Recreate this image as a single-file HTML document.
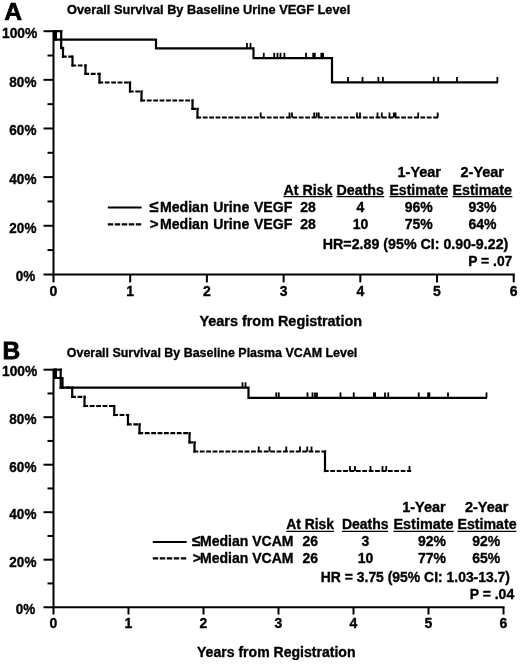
<!DOCTYPE html>
<html><head><meta charset="utf-8"><title>Overall Survival</title>
<style>
html,body{margin:0;padding:0;background:#fff;}
body{width:520px;height:664px;overflow:hidden;font-family:"Liberation Sans",sans-serif;}
svg{display:block;}
</style></head><body>
<svg width="520" height="664" viewBox="0 0 520 664">
<defs><filter id="soft" x="0" y="0" width="520" height="664" filterUnits="userSpaceOnUse"><feGaussianBlur stdDeviation="0.4"/></filter></defs>
<rect x="0" y="0" width="520" height="664" fill="#fff"/>
<g filter="url(#soft)">
<line x1="53.5" y1="30.20" x2="53.5" y2="275.40" stroke="#000" stroke-width="2.0"/>
<line x1="43.5" y1="274.40" x2="514.70" y2="274.40" stroke="#000" stroke-width="2.0"/>
<text x="15.78" y="281.20" font-size="14" textLength="19.52" lengthAdjust="spacingAndGlyphs" font-family="Liberation Sans, sans-serif" font-weight="bold" stroke="#000" stroke-width="0.35" stroke-linejoin="round">0%</text>
<line x1="47.5" y1="250.08" x2="53.5" y2="250.08" stroke="#000" stroke-width="2.0"/>
<line x1="43.5" y1="225.76" x2="53.5" y2="225.76" stroke="#000" stroke-width="2.0"/>
<text x="9.36" y="232.56" font-size="14" textLength="27.04" lengthAdjust="spacingAndGlyphs" font-family="Liberation Sans, sans-serif" font-weight="bold" stroke="#000" stroke-width="0.35" stroke-linejoin="round">20%</text>
<line x1="47.5" y1="201.44" x2="53.5" y2="201.44" stroke="#000" stroke-width="2.0"/>
<line x1="43.5" y1="177.12" x2="53.5" y2="177.12" stroke="#000" stroke-width="2.0"/>
<text x="9.36" y="183.92" font-size="14" textLength="27.04" lengthAdjust="spacingAndGlyphs" font-family="Liberation Sans, sans-serif" font-weight="bold" stroke="#000" stroke-width="0.35" stroke-linejoin="round">40%</text>
<line x1="47.5" y1="152.80" x2="53.5" y2="152.80" stroke="#000" stroke-width="2.0"/>
<line x1="43.5" y1="128.48" x2="53.5" y2="128.48" stroke="#000" stroke-width="2.0"/>
<text x="9.36" y="135.28" font-size="14" textLength="27.04" lengthAdjust="spacingAndGlyphs" font-family="Liberation Sans, sans-serif" font-weight="bold" stroke="#000" stroke-width="0.35" stroke-linejoin="round">60%</text>
<line x1="47.5" y1="104.16" x2="53.5" y2="104.16" stroke="#000" stroke-width="2.0"/>
<line x1="43.5" y1="79.84" x2="53.5" y2="79.84" stroke="#000" stroke-width="2.0"/>
<text x="9.36" y="86.64" font-size="14" textLength="27.04" lengthAdjust="spacingAndGlyphs" font-family="Liberation Sans, sans-serif" font-weight="bold" stroke="#000" stroke-width="0.35" stroke-linejoin="round">80%</text>
<line x1="47.5" y1="55.52" x2="53.5" y2="55.52" stroke="#000" stroke-width="2.0"/>
<line x1="43.5" y1="31.20" x2="53.5" y2="31.20" stroke="#000" stroke-width="2.0"/>
<text x="2.03" y="38.00" font-size="14" textLength="35.27" lengthAdjust="spacingAndGlyphs" font-family="Liberation Sans, sans-serif" font-weight="bold" stroke="#000" stroke-width="0.35" stroke-linejoin="round">100%</text>
<line x1="53.50" y1="274.40" x2="53.50" y2="282.40" stroke="#000" stroke-width="2.0"/>
<text x="53.50" y="295.80" text-anchor="middle" font-size="14" font-family="Liberation Sans, sans-serif" font-weight="bold" stroke="#000" stroke-width="0.35" stroke-linejoin="round">0</text>
<line x1="130.20" y1="274.40" x2="130.20" y2="282.40" stroke="#000" stroke-width="2.0"/>
<text x="130.20" y="295.80" text-anchor="middle" font-size="14" font-family="Liberation Sans, sans-serif" font-weight="bold" stroke="#000" stroke-width="0.35" stroke-linejoin="round">1</text>
<line x1="206.90" y1="274.40" x2="206.90" y2="282.40" stroke="#000" stroke-width="2.0"/>
<text x="206.90" y="295.80" text-anchor="middle" font-size="14" font-family="Liberation Sans, sans-serif" font-weight="bold" stroke="#000" stroke-width="0.35" stroke-linejoin="round">2</text>
<line x1="283.60" y1="274.40" x2="283.60" y2="282.40" stroke="#000" stroke-width="2.0"/>
<text x="283.60" y="295.80" text-anchor="middle" font-size="14" font-family="Liberation Sans, sans-serif" font-weight="bold" stroke="#000" stroke-width="0.35" stroke-linejoin="round">3</text>
<line x1="360.30" y1="274.40" x2="360.30" y2="282.40" stroke="#000" stroke-width="2.0"/>
<text x="360.30" y="295.80" text-anchor="middle" font-size="14" font-family="Liberation Sans, sans-serif" font-weight="bold" stroke="#000" stroke-width="0.35" stroke-linejoin="round">4</text>
<line x1="437.00" y1="274.40" x2="437.00" y2="282.40" stroke="#000" stroke-width="2.0"/>
<text x="437.00" y="295.80" text-anchor="middle" font-size="14" font-family="Liberation Sans, sans-serif" font-weight="bold" stroke="#000" stroke-width="0.35" stroke-linejoin="round">5</text>
<line x1="513.70" y1="274.40" x2="513.70" y2="282.40" stroke="#000" stroke-width="2.0"/>
<text x="513.70" y="295.80" text-anchor="middle" font-size="14" font-family="Liberation Sans, sans-serif" font-weight="bold" stroke="#000" stroke-width="0.35" stroke-linejoin="round">6</text>
<text transform="translate(4.3,19.6) scale(1.05,1)" font-size="23.5" font-family="Liberation Sans, sans-serif" font-weight="bold" stroke="#000" stroke-width="0.7" stroke-linejoin="round">A</text>
<text x="67.10" y="13.90" text-anchor="start" font-size="12.7" textLength="283.10" lengthAdjust="spacingAndGlyphs" font-family="Liberation Sans, sans-serif" font-weight="bold" stroke="#000" stroke-width="0.35" stroke-linejoin="round">Overall Survival By Baseline Urine VEGF Level</text>
<path d="M54.00,31.20 L55.70,31.20 L55.70,39.70 L156.00,39.70 L156.00,48.30 L253.50,48.30 L253.50,58.20 L332.00,58.20 L332.00,82.30 L498.00,82.30" fill="none" stroke="#000" stroke-width="2.2" stroke-linejoin="miter" stroke-linecap="butt"/>
<rect x="53.5" y="30.2" width="3.3" height="10.5" fill="#000"/>
<line x1="247.00" y1="42.90" x2="247.00" y2="48.30" stroke="#000" stroke-width="1.8"/>
<line x1="250.50" y1="42.90" x2="250.50" y2="48.30" stroke="#000" stroke-width="1.8"/>
<line x1="263.75" y1="52.80" x2="263.75" y2="58.20" stroke="#000" stroke-width="1.8"/>
<line x1="274.25" y1="52.80" x2="274.25" y2="58.20" stroke="#000" stroke-width="1.8"/>
<line x1="277.50" y1="52.80" x2="277.50" y2="58.20" stroke="#000" stroke-width="1.8"/>
<line x1="280.50" y1="52.80" x2="280.50" y2="58.20" stroke="#000" stroke-width="1.8"/>
<line x1="284.40" y1="52.80" x2="284.40" y2="58.20" stroke="#000" stroke-width="1.8"/>
<line x1="306.00" y1="52.80" x2="306.00" y2="58.20" stroke="#000" stroke-width="1.8"/>
<line x1="314.00" y1="52.80" x2="314.00" y2="58.20" stroke="#000" stroke-width="3.4"/>
<line x1="322.20" y1="52.80" x2="322.20" y2="58.20" stroke="#000" stroke-width="3.6"/>
<line x1="348.00" y1="76.90" x2="348.00" y2="82.30" stroke="#000" stroke-width="1.8"/>
<line x1="362.50" y1="76.90" x2="362.50" y2="82.30" stroke="#000" stroke-width="1.8"/>
<line x1="378.40" y1="76.90" x2="378.40" y2="82.30" stroke="#000" stroke-width="1.8"/>
<line x1="382.90" y1="76.90" x2="382.90" y2="82.30" stroke="#000" stroke-width="1.8"/>
<line x1="433.75" y1="76.90" x2="433.75" y2="82.30" stroke="#000" stroke-width="1.8"/>
<line x1="438.25" y1="76.90" x2="438.25" y2="82.30" stroke="#000" stroke-width="1.8"/>
<line x1="457.00" y1="76.90" x2="457.00" y2="82.30" stroke="#000" stroke-width="1.8"/>
<line x1="497.40" y1="76.90" x2="497.40" y2="82.30" stroke="#000" stroke-width="1.8"/>
<line x1="54.00" y1="31.20" x2="62.30" y2="31.20" stroke="#000" stroke-width="2.2"/>
<line x1="61.20" y1="30.10" x2="61.20" y2="49.10" stroke="#000" stroke-width="2.2"/>
<line x1="60.10" y1="48.00" x2="64.10" y2="48.00" stroke="#000" stroke-width="2.2" stroke-dasharray="4.8 1.6"/>
<line x1="63.00" y1="46.90" x2="63.00" y2="57.80" stroke="#000" stroke-width="2.2"/>
<line x1="61.90" y1="56.70" x2="73.60" y2="56.70" stroke="#000" stroke-width="2.2" stroke-dasharray="4.8 1.6"/>
<line x1="72.50" y1="55.60" x2="72.50" y2="66.60" stroke="#000" stroke-width="2.2"/>
<line x1="71.40" y1="65.50" x2="86.60" y2="65.50" stroke="#000" stroke-width="2.2" stroke-dasharray="4.8 1.6"/>
<line x1="85.50" y1="64.40" x2="85.50" y2="75.00" stroke="#000" stroke-width="2.2"/>
<line x1="84.40" y1="73.90" x2="100.60" y2="73.90" stroke="#000" stroke-width="2.2" stroke-dasharray="4.8 1.6"/>
<line x1="99.50" y1="72.80" x2="99.50" y2="83.60" stroke="#000" stroke-width="2.2"/>
<line x1="98.40" y1="82.50" x2="131.10" y2="82.50" stroke="#000" stroke-width="2.2" stroke-dasharray="4.8 1.6"/>
<line x1="130.00" y1="81.40" x2="130.00" y2="92.60" stroke="#000" stroke-width="2.2"/>
<line x1="128.90" y1="91.50" x2="142.60" y2="91.50" stroke="#000" stroke-width="2.2" stroke-dasharray="4.8 1.6"/>
<line x1="141.50" y1="90.40" x2="141.50" y2="101.60" stroke="#000" stroke-width="2.2"/>
<line x1="140.40" y1="100.50" x2="193.60" y2="100.50" stroke="#000" stroke-width="2.2" stroke-dasharray="4.8 1.6"/>
<line x1="192.50" y1="99.40" x2="192.50" y2="110.00" stroke="#000" stroke-width="2.2"/>
<line x1="191.40" y1="108.90" x2="198.60" y2="108.90" stroke="#000" stroke-width="2.2" stroke-dasharray="4.8 1.6"/>
<line x1="197.50" y1="107.80" x2="197.50" y2="118.60" stroke="#000" stroke-width="2.2"/>
<line x1="196.40" y1="117.50" x2="439.30" y2="117.50" stroke="#000" stroke-width="2.2" stroke-dasharray="4.8 1.6"/>
<line x1="260.70" y1="112.50" x2="260.70" y2="117.50" stroke="#000" stroke-width="1.8"/>
<line x1="289.50" y1="112.50" x2="289.50" y2="117.50" stroke="#000" stroke-width="1.8"/>
<line x1="292.00" y1="112.50" x2="292.00" y2="117.50" stroke="#000" stroke-width="1.8"/>
<line x1="314.25" y1="112.50" x2="314.25" y2="117.50" stroke="#000" stroke-width="1.8"/>
<line x1="316.75" y1="112.50" x2="316.75" y2="117.50" stroke="#000" stroke-width="1.8"/>
<line x1="318.75" y1="112.50" x2="318.75" y2="117.50" stroke="#000" stroke-width="1.8"/>
<line x1="357.00" y1="112.50" x2="357.00" y2="117.50" stroke="#000" stroke-width="1.8"/>
<line x1="360.00" y1="112.50" x2="360.00" y2="117.50" stroke="#000" stroke-width="1.8"/>
<line x1="377.50" y1="112.50" x2="377.50" y2="117.50" stroke="#000" stroke-width="1.8"/>
<line x1="381.80" y1="112.50" x2="381.80" y2="117.50" stroke="#000" stroke-width="1.8"/>
<line x1="389.50" y1="112.50" x2="389.50" y2="117.50" stroke="#000" stroke-width="1.8"/>
<line x1="394.70" y1="112.50" x2="394.70" y2="117.50" stroke="#000" stroke-width="3.6"/>
<line x1="418.20" y1="112.50" x2="418.20" y2="117.50" stroke="#000" stroke-width="1.8"/>
<line x1="437.70" y1="112.50" x2="437.70" y2="117.50" stroke="#000" stroke-width="1.8"/>
<text x="397.50" y="177.00" text-anchor="start" font-size="14" textLength="43.50" lengthAdjust="spacingAndGlyphs" font-family="Liberation Sans, sans-serif" font-weight="bold" stroke="#000" stroke-width="0.35" stroke-linejoin="round">1-Year</text>
<text x="460.50" y="177.00" text-anchor="start" font-size="14" textLength="43.50" lengthAdjust="spacingAndGlyphs" font-family="Liberation Sans, sans-serif" font-weight="bold" stroke="#000" stroke-width="0.35" stroke-linejoin="round">2-Year</text>
<text x="283.50" y="194.50" text-anchor="start" font-size="14" textLength="49.00" lengthAdjust="spacingAndGlyphs" font-family="Liberation Sans, sans-serif" font-weight="bold" stroke="#000" stroke-width="0.35" stroke-linejoin="round">At Risk</text>
<text x="336.50" y="194.50" text-anchor="start" font-size="14" textLength="47.50" lengthAdjust="spacingAndGlyphs" font-family="Liberation Sans, sans-serif" font-weight="bold" stroke="#000" stroke-width="0.35" stroke-linejoin="round">Deaths</text>
<text x="389.50" y="194.50" text-anchor="start" font-size="14" textLength="58.50" lengthAdjust="spacingAndGlyphs" font-family="Liberation Sans, sans-serif" font-weight="bold" stroke="#000" stroke-width="0.35" stroke-linejoin="round">Estimate</text>
<text x="452.50" y="194.50" text-anchor="start" font-size="14" textLength="59.50" lengthAdjust="spacingAndGlyphs" font-family="Liberation Sans, sans-serif" font-weight="bold" stroke="#000" stroke-width="0.35" stroke-linejoin="round">Estimate</text>
<line x1="283.50" y1="196.60" x2="332.50" y2="196.60" stroke="#000" stroke-width="1.3"/>
<line x1="336.50" y1="196.60" x2="384.20" y2="196.60" stroke="#000" stroke-width="1.3"/>
<line x1="389.50" y1="196.60" x2="448.00" y2="196.60" stroke="#000" stroke-width="1.3"/>
<line x1="452.50" y1="196.60" x2="512.30" y2="196.60" stroke="#000" stroke-width="1.3"/>
<line x1="107.80" y1="207.50" x2="141.60" y2="207.50" stroke="#000" stroke-width="2.2"/>
<line x1="107.8" y1="224.3" x2="141.6" y2="224.3" stroke="#000" stroke-width="2.2" stroke-dasharray="5.4 1.6"/>
<text x="149.30" y="212.40" text-anchor="start" font-size="16.5" font-family="Liberation Sans, sans-serif" font-weight="bold" stroke="#000" stroke-width="0.35" stroke-linejoin="round">≤</text>
<text x="160.00" y="212.40" text-anchor="start" font-size="14.1" font-family="Liberation Sans, sans-serif" font-weight="bold" stroke="#000" stroke-width="0.35" stroke-linejoin="round">Median</text>
<text x="213.20" y="212.40" text-anchor="start" font-size="14.1" font-family="Liberation Sans, sans-serif" font-weight="bold" stroke="#000" stroke-width="0.35" stroke-linejoin="round">Urine</text>
<text x="253.90" y="212.40" text-anchor="start" font-size="14.1" font-family="Liberation Sans, sans-serif" font-weight="bold" stroke="#000" stroke-width="0.35" stroke-linejoin="round">VEGF</text>
<text x="149.80" y="229.40" text-anchor="start" font-size="15" font-family="Liberation Sans, sans-serif" font-weight="bold" stroke="#000" stroke-width="0.35" stroke-linejoin="round">&gt;</text>
<text x="160.00" y="229.20" text-anchor="start" font-size="14.1" font-family="Liberation Sans, sans-serif" font-weight="bold" stroke="#000" stroke-width="0.35" stroke-linejoin="round">Median</text>
<text x="213.20" y="229.20" text-anchor="start" font-size="14.1" font-family="Liberation Sans, sans-serif" font-weight="bold" stroke="#000" stroke-width="0.35" stroke-linejoin="round">Urine</text>
<text x="253.90" y="229.20" text-anchor="start" font-size="14.1" font-family="Liberation Sans, sans-serif" font-weight="bold" stroke="#000" stroke-width="0.35" stroke-linejoin="round">VEGF</text>
<text x="308.00" y="212.40" text-anchor="middle" font-size="14" font-family="Liberation Sans, sans-serif" font-weight="bold" stroke="#000" stroke-width="0.35" stroke-linejoin="round">28</text>
<text x="308.00" y="229.20" text-anchor="middle" font-size="14" font-family="Liberation Sans, sans-serif" font-weight="bold" stroke="#000" stroke-width="0.35" stroke-linejoin="round">28</text>
<text x="360.50" y="212.40" text-anchor="middle" font-size="14" font-family="Liberation Sans, sans-serif" font-weight="bold" stroke="#000" stroke-width="0.35" stroke-linejoin="round">4</text>
<text x="360.50" y="229.20" text-anchor="middle" font-size="14" font-family="Liberation Sans, sans-serif" font-weight="bold" stroke="#000" stroke-width="0.35" stroke-linejoin="round">10</text>
<text x="418.80" y="212.40" text-anchor="middle" font-size="14" font-family="Liberation Sans, sans-serif" font-weight="bold" stroke="#000" stroke-width="0.35" stroke-linejoin="round">96%</text>
<text x="418.80" y="229.20" text-anchor="middle" font-size="14" font-family="Liberation Sans, sans-serif" font-weight="bold" stroke="#000" stroke-width="0.35" stroke-linejoin="round">75%</text>
<text x="482.50" y="212.40" text-anchor="middle" font-size="14" font-family="Liberation Sans, sans-serif" font-weight="bold" stroke="#000" stroke-width="0.35" stroke-linejoin="round">93%</text>
<text x="482.50" y="229.20" text-anchor="middle" font-size="14" font-family="Liberation Sans, sans-serif" font-weight="bold" stroke="#000" stroke-width="0.35" stroke-linejoin="round">64%</text>
<text x="322.80" y="249.00" text-anchor="start" font-size="14" textLength="185.50" lengthAdjust="spacingAndGlyphs" font-family="Liberation Sans, sans-serif" font-weight="bold" stroke="#000" stroke-width="0.35" stroke-linejoin="round">HR=2.89 (95% CI: 0.90-9.22)</text>
<text x="468.30" y="266.00" text-anchor="start" font-size="14" textLength="44.00" lengthAdjust="spacingAndGlyphs" font-family="Liberation Sans, sans-serif" font-weight="bold" stroke="#000" stroke-width="0.35" stroke-linejoin="round">P = .07</text>
<text x="199.50" y="325.80" text-anchor="start" font-size="14" textLength="162.50" lengthAdjust="spacingAndGlyphs" font-family="Liberation Sans, sans-serif" font-weight="bold" stroke="#000" stroke-width="0.35" stroke-linejoin="round">Years from Registration</text>
<line x1="53.5" y1="368.70" x2="53.5" y2="608.20" stroke="#000" stroke-width="2.0"/>
<line x1="43.5" y1="607.20" x2="504.50" y2="607.20" stroke="#000" stroke-width="2.0"/>
<text x="15.78" y="614.00" font-size="14" textLength="19.52" lengthAdjust="spacingAndGlyphs" font-family="Liberation Sans, sans-serif" font-weight="bold" stroke="#000" stroke-width="0.35" stroke-linejoin="round">0%</text>
<line x1="47.5" y1="583.45" x2="53.5" y2="583.45" stroke="#000" stroke-width="2.0"/>
<line x1="43.5" y1="559.70" x2="53.5" y2="559.70" stroke="#000" stroke-width="2.0"/>
<text x="9.36" y="566.50" font-size="14" textLength="27.04" lengthAdjust="spacingAndGlyphs" font-family="Liberation Sans, sans-serif" font-weight="bold" stroke="#000" stroke-width="0.35" stroke-linejoin="round">20%</text>
<line x1="47.5" y1="535.95" x2="53.5" y2="535.95" stroke="#000" stroke-width="2.0"/>
<line x1="43.5" y1="512.20" x2="53.5" y2="512.20" stroke="#000" stroke-width="2.0"/>
<text x="9.36" y="519.00" font-size="14" textLength="27.04" lengthAdjust="spacingAndGlyphs" font-family="Liberation Sans, sans-serif" font-weight="bold" stroke="#000" stroke-width="0.35" stroke-linejoin="round">40%</text>
<line x1="47.5" y1="488.45" x2="53.5" y2="488.45" stroke="#000" stroke-width="2.0"/>
<line x1="43.5" y1="464.70" x2="53.5" y2="464.70" stroke="#000" stroke-width="2.0"/>
<text x="9.36" y="471.50" font-size="14" textLength="27.04" lengthAdjust="spacingAndGlyphs" font-family="Liberation Sans, sans-serif" font-weight="bold" stroke="#000" stroke-width="0.35" stroke-linejoin="round">60%</text>
<line x1="47.5" y1="440.95" x2="53.5" y2="440.95" stroke="#000" stroke-width="2.0"/>
<line x1="43.5" y1="417.20" x2="53.5" y2="417.20" stroke="#000" stroke-width="2.0"/>
<text x="9.36" y="424.00" font-size="14" textLength="27.04" lengthAdjust="spacingAndGlyphs" font-family="Liberation Sans, sans-serif" font-weight="bold" stroke="#000" stroke-width="0.35" stroke-linejoin="round">80%</text>
<line x1="47.5" y1="393.45" x2="53.5" y2="393.45" stroke="#000" stroke-width="2.0"/>
<line x1="43.5" y1="369.70" x2="53.5" y2="369.70" stroke="#000" stroke-width="2.0"/>
<text x="2.03" y="375.90" font-size="14" textLength="35.27" lengthAdjust="spacingAndGlyphs" font-family="Liberation Sans, sans-serif" font-weight="bold" stroke="#000" stroke-width="0.35" stroke-linejoin="round">100%</text>
<line x1="53.50" y1="607.20" x2="53.50" y2="614.50" stroke="#000" stroke-width="2.0"/>
<text x="53.50" y="627.80" text-anchor="middle" font-size="14" font-family="Liberation Sans, sans-serif" font-weight="bold" stroke="#000" stroke-width="0.35" stroke-linejoin="round">0</text>
<line x1="128.50" y1="607.20" x2="128.50" y2="614.50" stroke="#000" stroke-width="2.0"/>
<text x="128.50" y="627.80" text-anchor="middle" font-size="14" font-family="Liberation Sans, sans-serif" font-weight="bold" stroke="#000" stroke-width="0.35" stroke-linejoin="round">1</text>
<line x1="203.50" y1="607.20" x2="203.50" y2="614.50" stroke="#000" stroke-width="2.0"/>
<text x="203.50" y="627.80" text-anchor="middle" font-size="14" font-family="Liberation Sans, sans-serif" font-weight="bold" stroke="#000" stroke-width="0.35" stroke-linejoin="round">2</text>
<line x1="278.50" y1="607.20" x2="278.50" y2="614.50" stroke="#000" stroke-width="2.0"/>
<text x="278.50" y="627.80" text-anchor="middle" font-size="14" font-family="Liberation Sans, sans-serif" font-weight="bold" stroke="#000" stroke-width="0.35" stroke-linejoin="round">3</text>
<line x1="353.50" y1="607.20" x2="353.50" y2="614.50" stroke="#000" stroke-width="2.0"/>
<text x="353.50" y="627.80" text-anchor="middle" font-size="14" font-family="Liberation Sans, sans-serif" font-weight="bold" stroke="#000" stroke-width="0.35" stroke-linejoin="round">4</text>
<line x1="428.50" y1="607.20" x2="428.50" y2="614.50" stroke="#000" stroke-width="2.0"/>
<text x="428.50" y="627.80" text-anchor="middle" font-size="14" font-family="Liberation Sans, sans-serif" font-weight="bold" stroke="#000" stroke-width="0.35" stroke-linejoin="round">5</text>
<line x1="503.50" y1="607.20" x2="503.50" y2="614.50" stroke="#000" stroke-width="2.0"/>
<text x="503.50" y="627.80" text-anchor="middle" font-size="14" font-family="Liberation Sans, sans-serif" font-weight="bold" stroke="#000" stroke-width="0.35" stroke-linejoin="round">6</text>
<text transform="translate(2.6,359.2) scale(1.03,1)" font-size="23.8" font-family="Liberation Sans, sans-serif" font-weight="bold" stroke="#000" stroke-width="0.8" stroke-linejoin="round">B</text>
<text x="66.80" y="357.00" text-anchor="start" font-size="12.7" textLength="290.50" lengthAdjust="spacingAndGlyphs" font-family="Liberation Sans, sans-serif" font-weight="bold" stroke="#000" stroke-width="0.35" stroke-linejoin="round">Overall Survival By Baseline Plasma VCAM Level</text>
<path d="M54.00,369.70 L55.70,369.70 L55.70,378.00 L62.50,378.00 L62.50,387.70 L248.50,387.70 L248.50,397.80 L487.00,397.80" fill="none" stroke="#000" stroke-width="2.2" stroke-linejoin="miter" stroke-linecap="butt"/>
<rect x="53.5" y="368.7" width="3.3" height="10.3" fill="#000"/>
<line x1="242.50" y1="382.30" x2="242.50" y2="387.70" stroke="#000" stroke-width="1.8"/>
<line x1="245.50" y1="382.30" x2="245.50" y2="387.70" stroke="#000" stroke-width="1.8"/>
<line x1="276.25" y1="392.40" x2="276.25" y2="397.80" stroke="#000" stroke-width="1.8"/>
<line x1="278.75" y1="392.40" x2="278.75" y2="397.80" stroke="#000" stroke-width="1.8"/>
<line x1="307.50" y1="392.40" x2="307.50" y2="397.80" stroke="#000" stroke-width="1.8"/>
<line x1="312.50" y1="392.40" x2="312.50" y2="397.80" stroke="#000" stroke-width="1.8"/>
<line x1="315.00" y1="392.40" x2="315.00" y2="397.80" stroke="#000" stroke-width="1.8"/>
<line x1="317.00" y1="392.40" x2="317.00" y2="397.80" stroke="#000" stroke-width="1.8"/>
<line x1="340.50" y1="392.40" x2="340.50" y2="397.80" stroke="#000" stroke-width="1.8"/>
<line x1="353.75" y1="392.40" x2="353.75" y2="397.80" stroke="#000" stroke-width="1.8"/>
<line x1="374.50" y1="392.40" x2="374.50" y2="397.80" stroke="#000" stroke-width="3"/>
<line x1="385.00" y1="392.40" x2="385.00" y2="397.80" stroke="#000" stroke-width="1.8"/>
<line x1="388.25" y1="392.40" x2="388.25" y2="397.80" stroke="#000" stroke-width="1.8"/>
<line x1="418.75" y1="392.40" x2="418.75" y2="397.80" stroke="#000" stroke-width="1.8"/>
<line x1="428.75" y1="392.40" x2="428.75" y2="397.80" stroke="#000" stroke-width="3"/>
<line x1="448.00" y1="392.40" x2="448.00" y2="397.80" stroke="#000" stroke-width="1.8"/>
<line x1="486.50" y1="392.40" x2="486.50" y2="397.80" stroke="#000" stroke-width="1.8"/>
<line x1="54.00" y1="369.70" x2="61.80" y2="369.70" stroke="#000" stroke-width="2.2"/>
<line x1="60.70" y1="368.60" x2="60.70" y2="388.80" stroke="#000" stroke-width="2.2"/>
<line x1="59.60" y1="387.70" x2="73.30" y2="387.70" stroke="#000" stroke-width="2.2" stroke-dasharray="4.8 1.6"/>
<line x1="72.20" y1="386.60" x2="72.20" y2="397.90" stroke="#000" stroke-width="2.2"/>
<line x1="71.10" y1="396.80" x2="85.60" y2="396.80" stroke="#000" stroke-width="2.2" stroke-dasharray="4.8 1.6"/>
<line x1="84.50" y1="395.70" x2="84.50" y2="407.10" stroke="#000" stroke-width="2.2"/>
<line x1="83.40" y1="406.00" x2="115.35" y2="406.00" stroke="#000" stroke-width="2.2" stroke-dasharray="4.8 1.6"/>
<line x1="114.25" y1="404.90" x2="114.25" y2="416.10" stroke="#000" stroke-width="2.2"/>
<line x1="113.15" y1="415.00" x2="129.10" y2="415.00" stroke="#000" stroke-width="2.2" stroke-dasharray="4.8 1.6"/>
<line x1="128.00" y1="413.90" x2="128.00" y2="425.40" stroke="#000" stroke-width="2.2"/>
<line x1="126.90" y1="424.30" x2="140.60" y2="424.30" stroke="#000" stroke-width="2.2" stroke-dasharray="4.8 1.6"/>
<line x1="139.50" y1="423.20" x2="139.50" y2="434.30" stroke="#000" stroke-width="2.2"/>
<line x1="138.40" y1="433.20" x2="190.60" y2="433.20" stroke="#000" stroke-width="2.2" stroke-dasharray="4.8 1.6"/>
<line x1="189.50" y1="432.10" x2="189.50" y2="443.50" stroke="#000" stroke-width="2.2"/>
<line x1="188.40" y1="442.40" x2="195.60" y2="442.40" stroke="#000" stroke-width="2.2" stroke-dasharray="4.8 1.6"/>
<line x1="194.50" y1="441.30" x2="194.50" y2="452.60" stroke="#000" stroke-width="2.2"/>
<line x1="193.40" y1="451.50" x2="326.10" y2="451.50" stroke="#000" stroke-width="2.2" stroke-dasharray="4.8 1.6"/>
<line x1="325.00" y1="450.40" x2="325.00" y2="472.10" stroke="#000" stroke-width="2.2"/>
<line x1="323.90" y1="471.00" x2="411.10" y2="471.00" stroke="#000" stroke-width="2.2" stroke-dasharray="4.8 1.6"/>
<line x1="258.75" y1="446.50" x2="258.75" y2="451.50" stroke="#000" stroke-width="1.8"/>
<line x1="269.50" y1="446.50" x2="269.50" y2="451.50" stroke="#000" stroke-width="1.8"/>
<line x1="286.25" y1="446.50" x2="286.25" y2="451.50" stroke="#000" stroke-width="1.8"/>
<line x1="300.00" y1="446.50" x2="300.00" y2="451.50" stroke="#000" stroke-width="1.8"/>
<line x1="307.25" y1="446.50" x2="307.25" y2="451.50" stroke="#000" stroke-width="1.8"/>
<line x1="311.50" y1="446.50" x2="311.50" y2="451.50" stroke="#000" stroke-width="1.8"/>
<line x1="350.00" y1="466.00" x2="350.00" y2="471.00" stroke="#000" stroke-width="1.8"/>
<line x1="355.00" y1="466.00" x2="355.00" y2="471.00" stroke="#000" stroke-width="1.8"/>
<line x1="370.50" y1="466.00" x2="370.50" y2="471.00" stroke="#000" stroke-width="1.8"/>
<line x1="382.50" y1="466.00" x2="382.50" y2="471.00" stroke="#000" stroke-width="1.8"/>
<line x1="386.25" y1="466.00" x2="386.25" y2="471.00" stroke="#000" stroke-width="1.8"/>
<line x1="409.50" y1="466.00" x2="409.50" y2="471.00" stroke="#000" stroke-width="1.8"/>
<text x="402.20" y="511.50" text-anchor="start" font-size="14" textLength="43.50" lengthAdjust="spacingAndGlyphs" font-family="Liberation Sans, sans-serif" font-weight="bold" stroke="#000" stroke-width="0.35" stroke-linejoin="round">1-Year</text>
<text x="464.90" y="511.50" text-anchor="start" font-size="14" textLength="43.50" lengthAdjust="spacingAndGlyphs" font-family="Liberation Sans, sans-serif" font-weight="bold" stroke="#000" stroke-width="0.35" stroke-linejoin="round">2-Year</text>
<text x="286.20" y="528.70" text-anchor="start" font-size="14" textLength="47.80" lengthAdjust="spacingAndGlyphs" font-family="Liberation Sans, sans-serif" font-weight="bold" stroke="#000" stroke-width="0.35" stroke-linejoin="round">At Risk</text>
<text x="342.00" y="528.70" text-anchor="start" font-size="14" textLength="46.50" lengthAdjust="spacingAndGlyphs" font-family="Liberation Sans, sans-serif" font-weight="bold" stroke="#000" stroke-width="0.35" stroke-linejoin="round">Deaths</text>
<text x="393.50" y="528.70" text-anchor="start" font-size="14" textLength="60.00" lengthAdjust="spacingAndGlyphs" font-family="Liberation Sans, sans-serif" font-weight="bold" stroke="#000" stroke-width="0.35" stroke-linejoin="round">Estimate</text>
<text x="457.50" y="528.70" text-anchor="start" font-size="14" textLength="59.00" lengthAdjust="spacingAndGlyphs" font-family="Liberation Sans, sans-serif" font-weight="bold" stroke="#000" stroke-width="0.35" stroke-linejoin="round">Estimate</text>
<line x1="286.20" y1="531.30" x2="334.00" y2="531.30" stroke="#000" stroke-width="1.3"/>
<line x1="342.00" y1="531.30" x2="388.00" y2="531.30" stroke="#000" stroke-width="1.3"/>
<line x1="393.50" y1="531.30" x2="453.80" y2="531.30" stroke="#000" stroke-width="1.3"/>
<line x1="457.50" y1="531.30" x2="516.30" y2="531.30" stroke="#000" stroke-width="1.3"/>
<line x1="152.80" y1="542.00" x2="186.60" y2="542.00" stroke="#000" stroke-width="2.2"/>
<line x1="152.8" y1="558.3" x2="186.6" y2="558.3" stroke="#000" stroke-width="2.2" stroke-dasharray="5.4 1.6"/>
<text x="192.10" y="546.30" text-anchor="start" font-size="15.6" font-family="Liberation Sans, sans-serif" font-weight="bold" stroke="#000" stroke-width="0.35" stroke-linejoin="round">≤</text>
<text x="200.00" y="546.30" text-anchor="start" font-size="14" textLength="93.50" lengthAdjust="spacingAndGlyphs" font-family="Liberation Sans, sans-serif" font-weight="bold" stroke="#000" stroke-width="0.35" stroke-linejoin="round">Median VCAM</text>
<text x="192.70" y="562.90" text-anchor="start" font-size="14.3" font-family="Liberation Sans, sans-serif" font-weight="bold" stroke="#000" stroke-width="0.35" stroke-linejoin="round">&gt;</text>
<text x="200.00" y="562.80" text-anchor="start" font-size="14" textLength="93.50" lengthAdjust="spacingAndGlyphs" font-family="Liberation Sans, sans-serif" font-weight="bold" stroke="#000" stroke-width="0.35" stroke-linejoin="round">Median VCAM</text>
<text x="310.30" y="546.30" text-anchor="middle" font-size="14" font-family="Liberation Sans, sans-serif" font-weight="bold" stroke="#000" stroke-width="0.35" stroke-linejoin="round">26</text>
<text x="310.30" y="562.80" text-anchor="middle" font-size="14" font-family="Liberation Sans, sans-serif" font-weight="bold" stroke="#000" stroke-width="0.35" stroke-linejoin="round">26</text>
<text x="365.50" y="546.30" text-anchor="middle" font-size="14" font-family="Liberation Sans, sans-serif" font-weight="bold" stroke="#000" stroke-width="0.35" stroke-linejoin="round">3</text>
<text x="365.60" y="562.80" text-anchor="middle" font-size="14" font-family="Liberation Sans, sans-serif" font-weight="bold" stroke="#000" stroke-width="0.35" stroke-linejoin="round">10</text>
<text x="432.00" y="546.30" text-anchor="middle" font-size="14" font-family="Liberation Sans, sans-serif" font-weight="bold" stroke="#000" stroke-width="0.35" stroke-linejoin="round">92%</text>
<text x="432.00" y="562.80" text-anchor="middle" font-size="14" font-family="Liberation Sans, sans-serif" font-weight="bold" stroke="#000" stroke-width="0.35" stroke-linejoin="round">77%</text>
<text x="486.30" y="546.30" text-anchor="middle" font-size="14" font-family="Liberation Sans, sans-serif" font-weight="bold" stroke="#000" stroke-width="0.35" stroke-linejoin="round">92%</text>
<text x="486.30" y="562.80" text-anchor="middle" font-size="14" font-family="Liberation Sans, sans-serif" font-weight="bold" stroke="#000" stroke-width="0.35" stroke-linejoin="round">65%</text>
<text x="320.80" y="582.10" text-anchor="start" font-size="14" textLength="189.20" lengthAdjust="spacingAndGlyphs" font-family="Liberation Sans, sans-serif" font-weight="bold" stroke="#000" stroke-width="0.35" stroke-linejoin="round">HR = 3.75 (95% CI: 1.03-13.7)</text>
<text x="469.70" y="598.50" text-anchor="start" font-size="14" textLength="44.50" lengthAdjust="spacingAndGlyphs" font-family="Liberation Sans, sans-serif" font-weight="bold" stroke="#000" stroke-width="0.35" stroke-linejoin="round">P = .04</text>
<text x="197.00" y="656.50" text-anchor="start" font-size="14" textLength="158.50" lengthAdjust="spacingAndGlyphs" font-family="Liberation Sans, sans-serif" font-weight="bold" stroke="#000" stroke-width="0.35" stroke-linejoin="round">Years from Registration</text>
</g>
</svg>
</body></html>
